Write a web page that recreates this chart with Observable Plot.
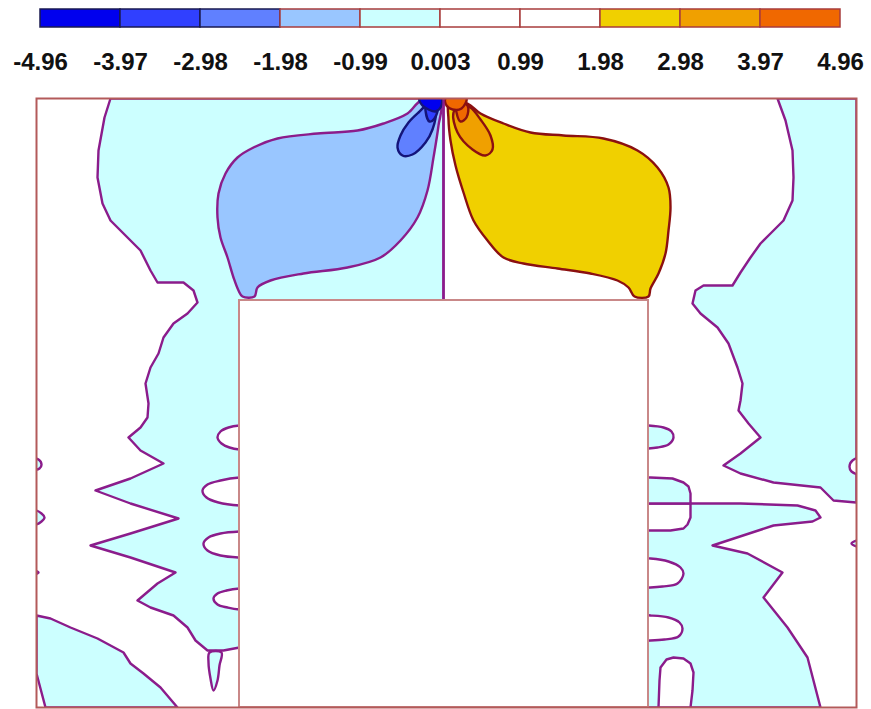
<!DOCTYPE html>
<html><head><meta charset="utf-8">
<script src="https://cdn.jsdelivr.net/npm/d3@7"></script>
<script src="https://cdn.jsdelivr.net/npm/@observablehq/plot@0.6"></script>
<style>
body{margin:0;background:#fff;}
#chart svg{display:block;}
</style></head><body><div id="chart"></div>
<script>
// ---- legend values ----
const thresholds = [-3.97, -2.98, -1.98, -0.99, 0.003, 0.99, 1.98, 2.98, 3.97];
const tickLabels = ["-4.96", "-3.97", "-2.98", "-1.98", "-0.99", "0.003", "0.99", "1.98", "2.98", "3.97", "4.96"];
const bandLevels = [-4.5, -3.5, -2.5, -1.5, -0.5, 0.5, 1.5, 2.5, 3.5, 4.5];
const bandColors = ["#0000ee", "#3040ff", "#6080ff", "#99c6ff", "#ccffff", "#ffffff", "#ffffff", "#f0d000", "#f0a000", "#f06800"];

// ---- domain geometry (grid units) ----
const domainX = [36, 856];
const domainY = [98, 707];
const slotX = [239, 648];
const slotY = [300, 707];
const symmetryX = [443];

// ---- contour polygons: [x, y] vertices ----
const cyanWest = [[110,98],[104,117],[98,150],[97,177],[102,203],[110,220],[127,237],[140,250],[150,270],[157,282],[183,282],[193,290],[197,302],[187,313],[173,323],[163,337],[158,353],[150,367],[145,383],[148,403],[147,417],[140,427],[128,437],[140,450],[163,463],[130,478],[95,490],[130,503],[178,518],[130,533],[90,545],[130,557],[175,572],[157,583],[137,600],[150,607],[173,615],[187,627],[195,640],[207,650],[223,650],[239,647],[443,647],[443,98]];
const cyanSouthWest = [[36,615],[50,618],[70,627],[97,638],[123,652],[130,663],[143,673],[160,687],[177,707],[45,707],[36,673]];
const cyanNorthEast = [[777,98],[785,120],[792,150],[793,177],[792,200],[783,220],[770,233],[760,243],[750,257],[740,272],[732,285],[703,285],[695,290],[692,303],[700,313],[717,327],[728,343],[737,367],[742,383],[740,400],[738,410],[748,423],[760,437],[740,453],[723,465],[740,473],[773,482],[820,487],[833,500],[856,502],[856,98]];
const cyanSouthEast = [[600,503],[690,503],[740,503],[797,505],[815,510],[820,517],[812,521],[773,525],[712,545],[747,553],[782,572],[763,597],[787,627],[807,657],[820,707],[600,707]];
const cyanBlobEast = [[600,477],[650,477],[672,478],[683,482],[688,486],[690,493],[690,503],[600,503]];
const whiteNotchEast = [[600,503],[690,503],[690,517],[687,524],[683,528],[670,530],[650,530],[600,530]];
const cyanOvalEast = [[600,425],[648,425],[663,427],[671,431],[673,437],[668,444],[657,447],[648,448],[600,448]];
const cyanDrop = [[209,652],[221,652],[219,665],[217,680],[213,690],[210,678],[208,662]];
const cyanEdge1 = [[30,458],[38,459],[41,464],[39,468],[30,469]];
const cyanEdge2 = [[30,510],[36,510],[44,517],[36,524],[30,524]];
const cyanEdge3 = [[30,569],[38,572],[30,575]];
const cyanEdge4 = [[862,539],[851,543],[862,547]];

const whiteOval1 = [[300,425],[239,425],[228,427],[220,431],[217,437],[221,443],[229,447],[239,449],[300,449]];
const whiteOval2 = [[300,477],[239,477],[220,480],[207,484],[202,490],[206,497],[218,502],[239,505],[300,505]];
const whiteOval3 = [[300,531],[239,531],[220,533],[208,537],[203,543],[207,550],[220,555],[239,557],[300,557]];
const whiteOval4 = [[300,588],[239,588],[226,590],[217,593],[213,598],[217,604],[227,607],[239,609],[300,609]];
const whiteOval5 = [[600,558],[650,558],[668,561],[680,567],[683,573],[677,583],[662,586],[650,587],[600,587]];
const whiteOval6 = [[600,615],[650,615],[668,617],[679,622],[682,628],[678,636],[664,639],[650,640],[600,640]];
const whiteArch = [[658,707],[659,680],[660,667],[666,659],[673,657],[683,658],[690,663],[693,672],[692,690],[690,707]];
const whiteEdgeEast = [[862,457],[852,460],[849,466],[851,471],[862,474]];

const lobeBlue1 = [[421,100],[407,113],[383,123],[357,130],[317,133],[277,138],[253,147],[237,157],[225,173],[218,193],[217,217],[220,237],[227,257],[233,277],[238,290],[242,296],[254,296],[257,287],[270,280],[303,273],[347,267],[380,257],[400,240],[417,217],[427,190],[433,157],[438,125],[440,103]];
const lobeBlue2 = [[428,104],[418,112],[408,122],[400,135],[397,147],[402,155],[412,154],[425,142],[432,129],[435,112]];
const lobeBlue3 = [[426,101],[425,110],[429,121],[434,118],[437,106]];
const lobeBlue4 = [[419,98],[422,105],[428,109],[435,111],[440,107],[441,98]];

const lobeWarm1 = [[449,100],[448,119],[450,140],[455,165],[463,192],[473,220],[487,240],[503,257],[523,263],[557,268],[590,273],[617,280],[628,287],[634,296],[648,296],[650,288],[658,273],[665,253],[668,230],[670,207],[668,187],[657,167],[637,150],[603,138],[563,135],[530,132],[503,123],[480,113],[467,103]];
const lobeWarm2 = [[460,104],[453,112],[457,132],[472,149],[485,155],[492,149],[490,135],[480,119],[470,107]];
const lobeWarm3 = [[456,102],[456,112],[460,121],[466,117],[467,105]];
const lobeWarm4 = [[445,98],[446,105],[452,109],[461,108],[466,98]];

// shape name, band level, vertices (drawing order)
const shapes = [
  ["cyanWest", -0.5, cyanWest],
  ["cyanSouthWest", -0.5, cyanSouthWest],
  ["cyanNorthEast", -0.5, cyanNorthEast],
  ["cyanSouthEast", -0.5, cyanSouthEast],
  ["whiteNotchEast", 0.5, whiteNotchEast],
  ["cyanBlobEast", -0.5, cyanBlobEast],
  ["cyanOvalEast", -0.5, cyanOvalEast],
  ["cyanDrop", -0.5, cyanDrop],
  ["cyanEdge1", -0.5, cyanEdge1],
  ["cyanEdge2", -0.5, cyanEdge2],
  ["cyanEdge3", -0.5, cyanEdge3],
  ["cyanEdge4", -0.5, cyanEdge4],
  ["whiteOval1", 0.5, whiteOval1],
  ["whiteOval2", 0.5, whiteOval2],
  ["whiteOval3", 0.5, whiteOval3],
  ["whiteOval4", 0.5, whiteOval4],
  ["whiteOval5", 0.5, whiteOval5],
  ["whiteOval6", 0.5, whiteOval6],
  ["whiteArch", 0.5, whiteArch],
  ["whiteEdgeEast", 0.5, whiteEdgeEast],
  ["lobeBlue1", -1.5, lobeBlue1],
  ["lobeBlue2", -2.5, lobeBlue2],
  ["lobeBlue3", -3.5, lobeBlue3],
  ["lobeBlue4", -4.5, lobeBlue4],
  ["lobeWarm1", 2.5, lobeWarm1],
  ["lobeWarm2", 3.5, lobeWarm2],
  ["lobeWarm3", 4.5, lobeWarm3],
  ["lobeWarm4", 4.8, lobeWarm4]
];

// shapes with hand-traced straight edges stay linear; rounded contours are smoothed
const linearShapes = new Set(["cyanWest", "cyanSouthWest", "cyanNorthEast", "cyanSouthEast", "whiteNotchEast", "cyanBlobEast", "whiteArch"]);

const rows = shapes.flatMap(([name, level, pts]) => {
  const smooth = !linearShapes.has(name);
  const ring = smooth ? pts : pts.concat([pts[0]]);
  return ring.map(([x, y]) => ({name, level, smooth, x, y}));
});

const colorScale = {type: "threshold", domain: thresholds, range: bandColors};
const purple = "#8b1c8b", navy = "#14147a", maroon = "#8b1010";
const outlineOf = (lv) => lv > 0.99 ? maroon : (lv < -1.98 ? navy : purple);
const font = "'Liberation Sans', Arial, sans-serif";

const legend = Plot.plot({
  width: 871, height: 90,
  marginLeft: 40, marginRight: 31, marginTop: 9, marginBottom: 63,
  x: {domain: [0, 10], axis: null},
  y: {domain: [0, 1], axis: null},
  color: colorScale,
  marks: [
    Plot.rect(bandLevels, {x1: (d, i) => i, x2: (d, i) => i + 1, y1: 0, y2: 1, fill: d => d,
      stroke: d => d < -1.98 ? "#1a1a50" : "#a83c3c", strokeWidth: 1.5}),
    Plot.text(tickLabels, {x: (d, i) => i, text: d => d, frameAnchor: "bottom", lineAnchor: "middle", dy: 35,
      fontSize: 24, fontWeight: "bold", fontFamily: font, fill: "#111"})
  ]
});

const lineMark = (stroke, smooth) => Plot.line(
  rows.filter(d => outlineOf(d.level) === stroke && d.smooth === smooth), {
  x: "x", y: "y", z: "name", fill: "level", stroke, strokeWidth: 2.4,
  curve: smooth ? "catmull-rom-closed" : "linear", clip: true
});

const main = Plot.plot({
  width: 871, height: 619,
  marginLeft: 36, marginRight: 15, marginTop: 8, marginBottom: 2,
  x: {domain: domainX, axis: null},
  y: {domain: domainY, reverse: true, axis: null},
  color: colorScale,
  style: {background: "white"},
  marks: [
    lineMark(purple, false),
    lineMark(purple, true),
    lineMark(navy, true),
    lineMark(maroon, true),
    Plot.ruleX(symmetryX, {y1: domainY[0], y2: slotY[0], stroke: purple, strokeWidth: 2.4}),
    Plot.rect([{x1: slotX[0], x2: slotX[1], y1: slotY[0], y2: slotY[1]}],
      {x1: "x1", x2: "x2", y1: "y1", y2: "y2", fill: "white", stroke: "#c98888", strokeWidth: 2}),
    Plot.frame({stroke: "#b35a5a", strokeWidth: 2})
  ]
});

document.getElementById("chart").append(legend, main);
</script></body></html>
